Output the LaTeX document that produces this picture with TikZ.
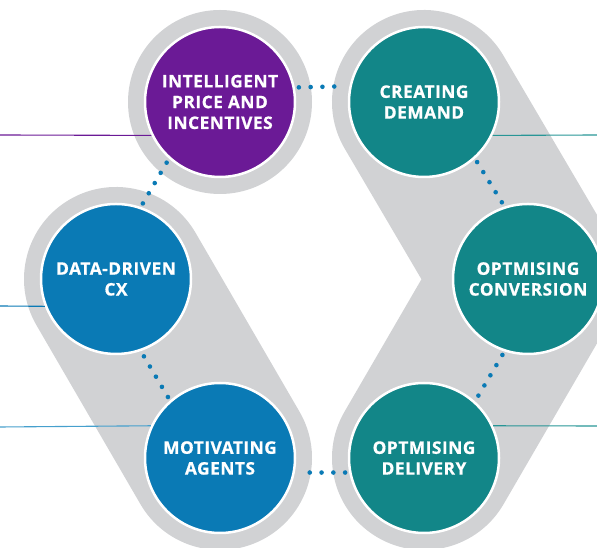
\documentclass[tikz,border=0pt]{standalone}
\usepackage{fontspec}
\setmainfont{Open Sans}[LetterSpace=3, BoldFeatures={FakeBold=0.6}]
\usetikzlibrary{calc}
\definecolor{ringgray}{RGB}{209,210,212}
\definecolor{cpurple}{RGB}{107,26,150}
\definecolor{cteal}{RGB}{18,134,136}
\definecolor{cblue}{RGB}{10,122,181}
\definecolor{lineteal}{RGB}{40,150,150}
\definecolor{lightblue}{RGB}{70,160,205}
\tikzset{
  stage/.style={circle, draw=white, line width=2.5pt, minimum size=150pt,
    inner sep=0pt, text=white, align=center,
    font=\fontsize{17.3}{20.8}\selectfont\bfseries},
  band/.style={ringgray, line width=184pt, line cap=round, line join=round},
  dots/.style={draw=cblue, line width=4.6pt, line cap=round,
    dash pattern=on 0pt off 11.8pt, shorten <=4pt, shorten >=3.5pt},
  leader/.style={line width=1.1pt}
}
\begin{document}
\begin{tikzpicture}[x=1pt,y=1pt]
\useasboundingbox (0,0) rectangle (597,548);
% centres of the six stages
\coordinate (cP) at (220,446);
\coordinate (cC) at (424,446);
\coordinate (cV) at (528,269);
\coordinate (cD) at (424,90);
\coordinate (cM) at (220,90);
\coordinate (cX) at (116,269);
% grey backdrop: ring, left capsule and right chevron
\fill[ringgray] (cP) circle (92);
\draw[band] (cX) -- (cM);
\draw[band] (cC) -- (cV) -- (cD);
% stages
\node[stage, fill=cpurple] (P) at (cP) {INTELLIGENT\\PRICE AND\\INCENTIVES};
\node[stage, fill=cteal] (C) at (cC) {CREATING\\DEMAND};
\node[stage, fill=cteal] (V) at (cV) {OPTMISING\\CONVERSION};
\node[stage, fill=cteal] (D) at (cD) {OPTMISING\\DELIVERY};
\node[stage, fill=cblue] (M) at (cM) {MOTIVATING\\AGENTS};
\node[stage, fill=cblue] (X) at (cX) {DATA-DRIVEN\\CX};
% leader lines
\coordinate (lP) at (0,413);
\coordinate (lC) at (597,413);
\coordinate (lX) at (0,242);
\coordinate (lM) at (0,121);
\coordinate (lD) at (597,122);
\draw[leader, cpurple] (lP) -- (P.206.1);
\draw[leader, lineteal] (C.-26.1) -- (lC);
\draw[leader, cblue] (lX) -- (X.201.1);
\draw[leader, lightblue] (lM) -- (M.155.6);
\draw[leader, lineteal] (D.25.3) -- (lD);
% dotted links around the cycle
\draw[dots] (P.11.5) -- (C.168.5);
\draw[dots] (C.-48.1) -- (V.108.9);
\draw[dots] (V.-108.7) -- (D.48.3);
\draw[dots] (D.191.5) -- (M.-11.5);
\draw[dots] (M.131.7) -- (X.-71.3);
\draw[dots] (X.71.1) -- (P.228.1);
\end{tikzpicture}
\end{document}
